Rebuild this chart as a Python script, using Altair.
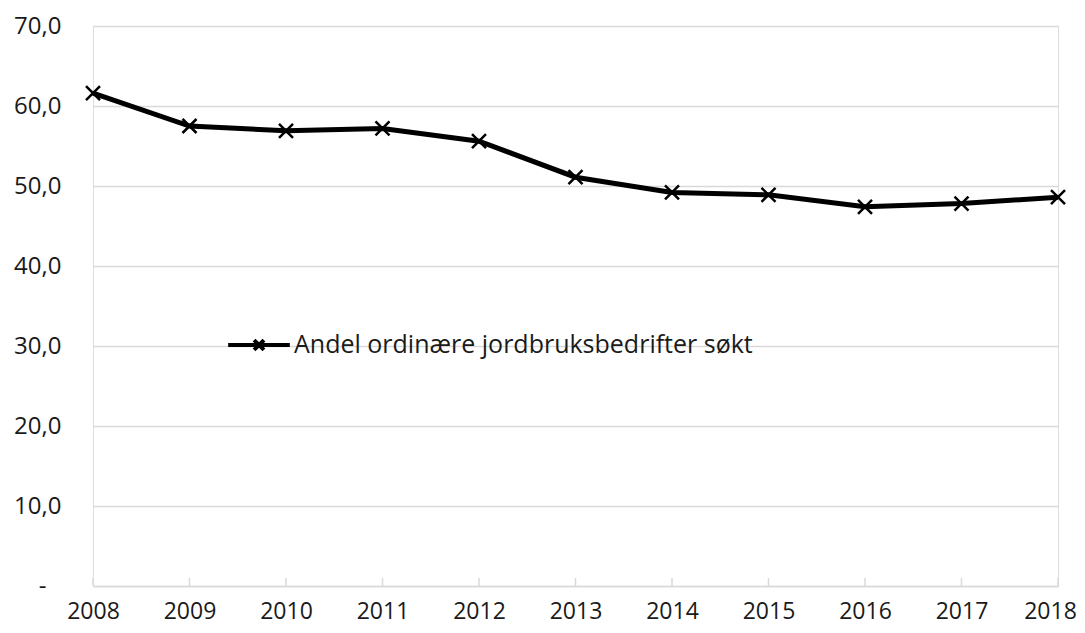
import altair as alt
import pandas as pd

years = [2008, 2009, 2010, 2011, 2012, 2013, 2014, 2015, 2016, 2017, 2018]
values = [61.6, 57.5, 56.9, 57.2, 55.6, 51.1, 49.2, 48.9, 47.4, 47.8, 48.6]
series_name = "Andel ordinære jordbruksbedrifter søkt"
y_ticks = [0, 10, 20, 30, 40, 50, 60, 70]

df = pd.DataFrame({"year": years, "value": values, "serie": [series_name] * len(years)})
tick_df = pd.DataFrame({"year": years})

FONT = "Open Sans"
FS = 24
W, H = 965, 560

x_scale = alt.Scale(domain=[years[0], years[-1]], nice=False, zero=False)
y_scale = alt.Scale(domain=[0, 70], nice=False)

legend_symbol = "M-1,0H1M-0.16,-0.16L0.16,0.16M-0.16,0.16L0.16,-0.16"

line = alt.Chart(df).mark_line(strokeWidth=5, color="black").encode(
    x=alt.X("year:Q", scale=x_scale,
            axis=alt.Axis(values=years, format="d", title=None, grid=False,
                          domainColor="#d9d9d9", domainWidth=1.5, ticks=False,
                          labelFontSize=23, labelFont=FONT, labelColor="#1a1a1a",
                          labelPadding=14, labelFlush=False,
                          labelOffset={"condition": {"test": "datum.value == 2018", "value": -8}, "value": 0})),
    y=alt.Y("value:Q", scale=y_scale,
            axis=alt.Axis(values=y_ticks, title=None, domain=False, ticks=False,
                          gridColor="#d9d9d9", gridWidth=1.5,
                          labelExpr="datum.value == 0 ? '-' : replace(format(datum.value, '.1f'), '.', ',')",
                          labelFontSize=FS, labelFont=FONT, labelColor="#1a1a1a",
                          labelPadding={"condition": {"test": "datum.value == 0", "value": 47}, "value": 32})),
    color=alt.Color("serie:N", scale=alt.Scale(range=["black"]),
                    legend=alt.Legend(title=None, orient="none", legendX=133, legendY=286,
                                      symbolType=legend_symbol, symbolSize=3800,
                                      symbolStrokeWidth=4, symbolStrokeColor="black",
                                      labelFontSize=25, labelFont=FONT, labelColor="#1a1a1a",
                                      labelOffset=2, labelLimit=0)),
)

points = alt.Chart(df).mark_point(shape="M-1,-1L1,1M-1,1L1,-1", size=196, strokeWidth=2.5,
                                  filled=False, color="black", opacity=1).encode(
    x=alt.X("year:Q", scale=x_scale),
    y=alt.Y("value:Q", scale=y_scale),
)

xticks = alt.Chart(tick_df).mark_rule(color="#d9d9d9", strokeWidth=1.5).encode(
    x=alt.X("year:Q", scale=x_scale),
    y=alt.value(H - 8),
    y2=alt.value(H),
)

chart = alt.layer(xticks, line, points).properties(
    width=W, height=H,
    autosize=alt.AutoSizeParams(type="none"),
    padding={"left": 85, "top": 18, "right": 19, "bottom": 39},
).configure_view(stroke=None).configure(background="white")

chart.save("out.html", embed_options={"renderer": "svg", "actions": False})
